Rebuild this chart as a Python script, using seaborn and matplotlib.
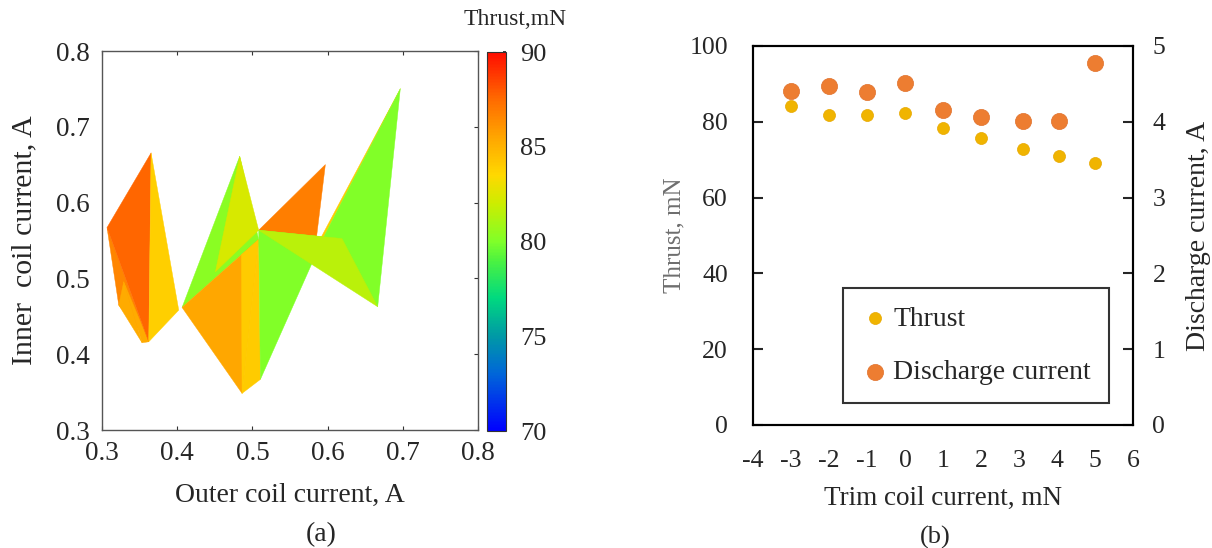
import matplotlib
matplotlib.use("Agg")
import matplotlib.pyplot as plt
from matplotlib.colors import LinearSegmentedColormap
import seaborn as sns

# (a) operating points: outer / inner coil current, A
outer_current = [0.3066, 0.3652, 0.3222, 0.3532, 0.3621, 0.4020, 0.3288,
                 0.4064, 0.4831, 0.5083, 0.5083, 0.4507, 0.4853, 0.4862, 0.5106,
                 0.5948, 0.5970, 0.5850, 0.6191, 0.6666, 0.6967, 0.5912]
inner_current = [0.5671, 0.6656, 0.4648, 0.4151, 0.4164, 0.4582, 0.4955,
                 0.4617, 0.6612, 0.5636, 0.5513, 0.5087, 0.5311, 0.3483, 0.3668,
                 0.5548, 0.6502, 0.5526, 0.5526, 0.4626, 0.7504, 0.5540]
# facets of the surface (drawn in this order) and their thrust, mN
facets = [[0, 2, 4], [6, 2, 3], [6, 3, 4], [0, 1, 4], [1, 5, 4],
          [7, 8, 10], [8, 9, 11], [7, 10, 13], [12, 10, 13], [10, 14, 13],
          [9, 16, 17], [9, 14, 15], [21, 20, 15], [15, 20, 19], [9, 18, 19]]
facet_thrust = [86.6, 85.3, 85.3, 87.6, 83.9,
                80.3, 82.3, 85.4, 84.0, 84.0,
                86.8, 80.0, 84.0, 80.0, 81.5]

# (b) trim coil sweep
trim_current = [-3, -2, -1, 0, 1, 2, 3.1, 4.05, 5]
thrust_mn = [84.1, 81.7, 81.7, 82.4, 78.4, 75.7, 72.7, 71.0, 69.2]
discharge_a = [4.41, 4.47, 4.39, 4.51, 4.16, 4.06, 4.01, 4.01, 4.78]

sns.set_theme(style="white")
plt.rcParams['font.family'] = ['Liberation Serif', 'DejaVu Serif']
plt.rcParams['axes.unicode_minus'] = False

# colour scale
cmap = LinearSegmentedColormap.from_list("thrust", [
    (0.00, (0.00, 0.00, 1.00)),
    (0.15, (0.00, 0.40, 0.85)),
    (0.25, (0.00, 0.60, 0.65)),
    (0.35, (0.00, 0.85, 0.50)),
    (0.45, (0.30, 0.95, 0.25)),
    (0.50, (0.50, 1.00, 0.16)),
    (0.60, (0.80, 0.93, 0.00)),
    (0.675, (1.00, 0.85, 0.00)),
    (0.775, (1.00, 0.65, 0.00)),
    (0.875, (1.00, 0.42, 0.00)),
    (1.00, (1.00, 0.05, 0.00)),
])

fig = plt.figure(figsize=(12.12, 5.48), dpi=100)

# ---- (a) thrust map ----
ax = fig.add_axes([0.0842, 0.2153, 0.3102, 0.6916])
tpc = ax.tripcolor(outer_current, inner_current, facets, facecolors=facet_thrust,
                   cmap=cmap, vmin=70, vmax=90, edgecolors='face', linewidth=0.3)
ax.set_xlim(0.3, 0.8)
ax.set_ylim(0.3, 0.8)
ax.set_xticks([0.3, 0.4, 0.5, 0.6, 0.7, 0.8])
ax.set_yticks([0.3, 0.4, 0.5, 0.6, 0.7, 0.8])
ax.tick_params(direction='in', length=3, width=0.8, color='#333333', labelsize=19.5,
               top=True, right=True, bottom=True, left=False)
ax.tick_params(axis='x', pad=8)
ax.tick_params(axis='y', pad=9)
for s in ax.spines.values():
    s.set_color('#555555')
    s.set_linewidth(1.0)
ax.set_xlabel("Outer coil current, A", fontsize=20, labelpad=12)
ax.set_ylabel("Inner  coil current, A", fontsize=21.5, labelpad=13)

cax = fig.add_axes([0.4018, 0.2135, 0.0157, 0.6916])
cb = fig.colorbar(tpc, cax=cax, ticks=[70, 75, 80, 85, 90])
cb.outline.set_linewidth(0.8)
cb.outline.set_edgecolor('#333333')
cax.tick_params(direction='in', length=2, labelsize=19, pad=10)
fig.text(0.425, 0.964, "Thrust,mN", ha='center', va='center', fontsize=17)
fig.text(0.265, 0.025, "(a)", ha='center', va='center', fontsize=20)

# ---- (b) trim coil ----
ax2 = fig.add_axes([0.6213, 0.2245, 0.3135, 0.6916])
sns.scatterplot(x=trim_current, y=thrust_mn, ax=ax2, color='#F0B400', s=75,
                edgecolor='#E8A800', linewidth=0.5, zorder=3, label='Thrust', legend=False)
ax3 = ax2.twinx()
sns.scatterplot(x=trim_current, y=discharge_a, ax=ax3, color='#ED7D31', s=135,
                edgecolor='#E0702A', linewidth=0.5, zorder=3, label='Discharge current', legend=False)
ax2.set_xlim(-4, 6)
ax2.set_ylim(0, 100)
ax3.set_ylim(0, 5)
ax2.set_xticks(range(-4, 7))
ax2.set_yticks(range(0, 101, 20))
ax3.set_yticks(range(0, 6))
for a in (ax2, ax3):
    for s in a.spines.values():
        s.set_color('black')
        s.set_linewidth(1.5)
ax2.tick_params(axis='x', direction='in', length=7, width=1.5, labelsize=18.5, pad=18)
ax2.tick_params(axis='y', direction='in', length=7, width=1.5, labelsize=18.5, pad=18,
                right=False)
ax3.tick_params(axis='y', direction='in', length=7, width=1.5, labelsize=18.5, pad=14)
ax2.set_xlabel("Trim coil current, mN", fontsize=19.5, labelpad=10)
ax2.set_ylabel("Thrust, mN", fontsize=18, color='#6e6e6e', labelpad=3)
ax3.set_ylabel("Discharge current, A", fontsize=20, labelpad=15)

h1, l1 = ax2.get_legend_handles_labels()
h2, l2 = ax3.get_legend_handles_labels()
leg = ax3.legend(h1 + h2, l1 + l2, loc='lower left', bbox_to_anchor=(0.237, 0.058),
                 fontsize=20, frameon=True, fancybox=False, borderaxespad=0,
                 handlelength=1.0, handletextpad=0.15, labelspacing=1.0, borderpad=0.65)
leg.get_frame().set_edgecolor('black')
leg.get_frame().set_linewidth(1.5)
fig.text(0.7715, 0.02, "(b)", ha='center', va='center', fontsize=19)

fig.savefig("out.png", dpi=100)
